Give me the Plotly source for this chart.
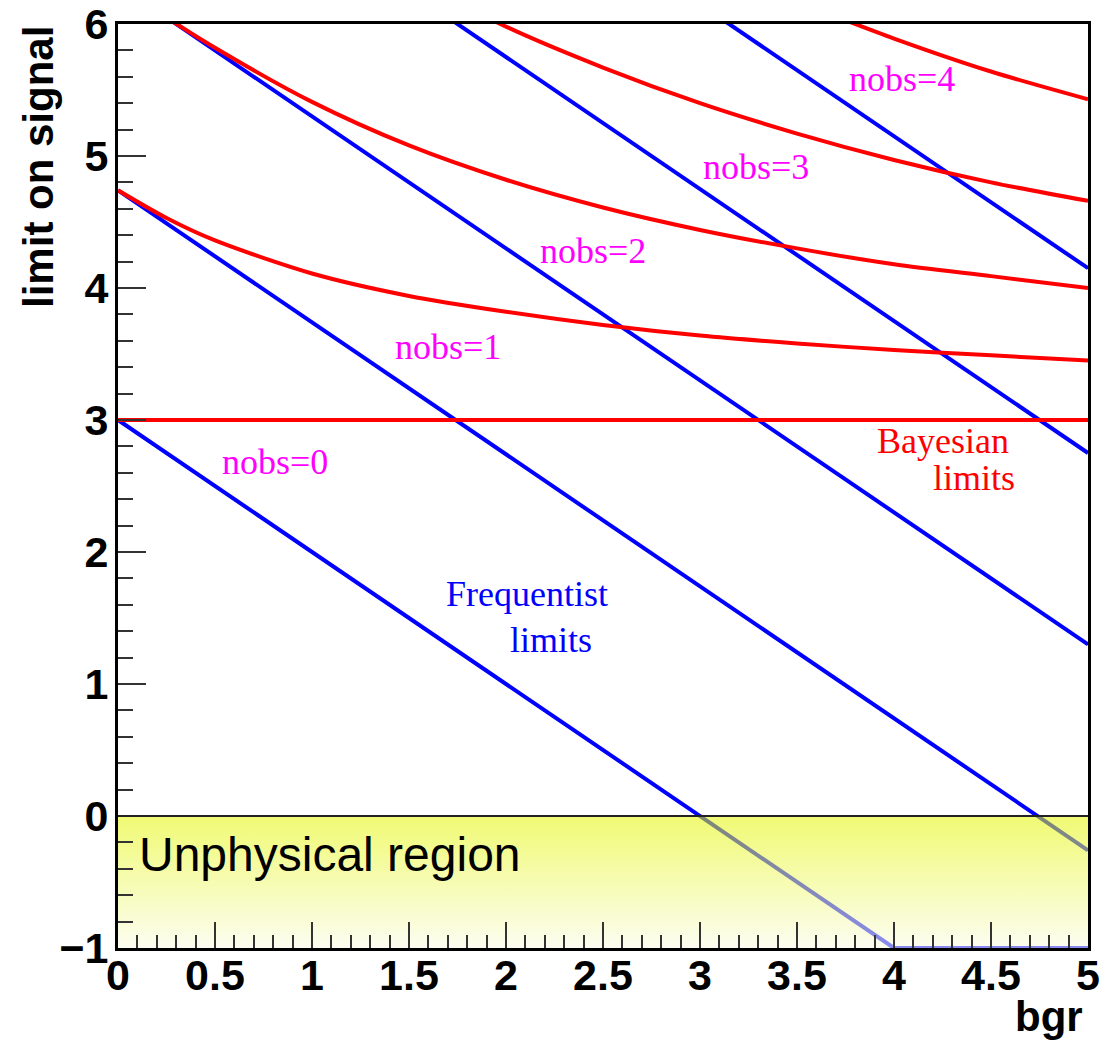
import plotly.graph_objects as go

# ---------------- data ----------------
# Frequentist limits (straight lines, clipped by the axis range)
freq_n0_b = [0, 4, 5]
freq_n0_s = [3.0, -1.0, -1.0]
freq_n1_b = [0, 5]
freq_n1_s = [4.74, -0.26]
freq_n2_b = [0, 5]
freq_n2_s = [6.30, 1.30]
freq_n3_b = [0, 5]
freq_n3_s = [7.75, 2.75]
freq_n4_b = [0, 5]
freq_n4_s = [9.15, 4.15]

# Bayesian limits
bay_n0_b = [0, 5]
bay_n0_s = [3.0, 3.0]
bay_n1_b = [0, 0.25, 0.5, 1, 1.5, 2, 2.5, 3, 3.5, 4, 4.5, 5]
bay_n1_s = [4.74, 4.53, 4.36, 4.11, 3.94, 3.82, 3.72, 3.64, 3.58, 3.53, 3.49, 3.45]
bay_n2_b = [0, 0.25, 0.5, 1, 1.5, 2, 2.5, 3, 3.5, 4, 4.5, 5]
bay_n2_s = [6.30, 6.05, 5.82, 5.41, 5.08, 4.82, 4.61, 4.44, 4.30, 4.18, 4.09, 4.00]
bay_n3_b = [1.5, 2, 2.5, 3, 3.5, 4, 4.5, 5]
bay_n3_s = [6.36, 5.98, 5.67, 5.40, 5.17, 4.97, 4.80, 4.66]
bay_n4_b = [3.5, 4, 4.5, 5]
bay_n4_s = [6.17, 5.89, 5.64, 5.43]

# unphysical region box
region_b = [0, 5, 5, 0, 0]
region_s = [0, 0, -1, -1, 0]

x_tickvals = [0, 0.5, 1, 1.5, 2, 2.5, 3, 3.5, 4, 4.5, 5]
x_ticktext = ["0", "0.5", "1", "1.5", "2", "2.5", "3", "3.5", "4", "4.5", "5"]
y_tickvals = [-1, 0, 1, 2, 3, 4, 5, 6]
y_ticktext = ["\u22121", "0", "1", "2", "3", "4", "5", "6"]

# labels: (text, b, s)
nobs_labels = [
    ("nobs=0", 0.81, 2.68),
    ("nobs=1", 1.70, 3.55),
    ("nobs=2", 2.45, 4.28),
    ("nobs=3", 3.29, 4.92),
    ("nobs=4", 4.04, 5.58),
]

BLUE = "#0000ff"
RED = "#ff0000"
MAGENTA = "#ff00ff"
LW = 4

fig = go.Figure()

for bx, sy in [(freq_n0_b, freq_n0_s), (freq_n1_b, freq_n1_s), (freq_n2_b, freq_n2_s),
               (freq_n3_b, freq_n3_s), (freq_n4_b, freq_n4_s)]:
    fig.add_trace(go.Scatter(x=bx, y=sy, mode="lines",
                             line=dict(color=BLUE, width=LW), showlegend=False, hoverinfo="skip"))

for bx, sy in [(bay_n0_b, bay_n0_s), (bay_n1_b, bay_n1_s), (bay_n2_b, bay_n2_s),
               (bay_n3_b, bay_n3_s), (bay_n4_b, bay_n4_s)]:
    fig.add_trace(go.Scatter(x=bx, y=sy, mode="lines",
                             line=dict(color=RED, width=LW, shape="spline", smoothing=0.8),
                             showlegend=False, hoverinfo="skip"))

# semi-transparent gradient region drawn over the lines
fig.add_trace(go.Scatter(
    x=region_b, y=region_s, mode="lines", line=dict(width=0),
    fill="toself",
    fillgradient=dict(type="vertical",
                      colorscale=[[0, "rgba(250,252,228,0.55)"], [1, "rgba(228,246,0,0.55)"]]),
    showlegend=False, hoverinfo="skip"))

fig.add_shape(type="line", x0=0, x1=5, y0=0, y1=0, xref="x", yref="y",
              line=dict(color="#222222", width=2), layer="above")

serif = "Liberation Serif"
ann = []
for t, bx, sy in nobs_labels:
    ann.append(dict(x=bx, y=sy, text=t, showarrow=False, xref="x", yref="y",
                    font=dict(family=serif, size=36, color=MAGENTA)))
ann += [
    dict(x=2.11, y=1.68, text="Frequentist", showarrow=False, xref="x", yref="y",
         font=dict(family=serif, size=36, color=BLUE)),
    dict(x=2.23, y=1.33, text="limits", showarrow=False, xref="x", yref="y",
         font=dict(family=serif, size=36, color=BLUE)),
    dict(x=4.25, y=2.84, text="Bayesian", showarrow=False, xref="x", yref="y",
         font=dict(family=serif, size=36, color=RED)),
    dict(x=4.41, y=2.56, text="limits", showarrow=False, xref="x", yref="y",
         font=dict(family=serif, size=36, color=RED)),
    dict(x=0.098, y=-0.29, text="Unphysical region", showarrow=False, xref="x", yref="y",
         xanchor="left", font=dict(family="Liberation Sans", size=48, color="black")),
    dict(x=-0.0825, y=1.0, text="limit on signal", showarrow=False, xref="paper", yref="paper",
         textangle=-90, xanchor="center", yanchor="top",
         font=dict(family="Liberation Sans", size=42, color="black", weight="bold")),
    dict(x=0.997, y=-0.0745, text="bgr", showarrow=False, xref="paper", yref="paper",
         xanchor="right", yanchor="middle",
         font=dict(family="Liberation Sans", size=42, color="black", weight="bold")),
]

tickfont = dict(family="Liberation Sans", size=43, color="black", weight="bold")

fig.update_layout(
    width=1118, height=1041,
    margin=dict(l=118, r=30, t=24, b=93),
    paper_bgcolor="white", plot_bgcolor="white",
    annotations=ann,
    xaxis=dict(range=[0, 5], showgrid=False, zeroline=False, automargin=False,
               showline=True, linecolor="black", linewidth=3, mirror=True,
               ticks="inside", ticklen=26, tickwidth=2, tickcolor="#333333",
               tickvals=x_tickvals, ticktext=x_ticktext, tickfont=tickfont,
               ticklabelstandoff=-13,
               minor=dict(dtick=0.1, ticks="inside", ticklen=13, tickwidth=2,
                          tickcolor="#333333", showgrid=False)),
    yaxis=dict(range=[-1, 6], showgrid=False, zeroline=False, automargin=False,
               showline=True, linecolor="black", linewidth=3, mirror=True,
               ticks="inside", ticklen=28, tickwidth=2, tickcolor="#333333",
               tickvals=y_tickvals, ticktext=y_ticktext, tickfont=tickfont,
               ticklabelstandoff=-2,
               minor=dict(dtick=0.2, ticks="inside", ticklen=15, tickwidth=2,
                          tickcolor="#333333", showgrid=False)),
)

fig.write_html("out.html")
